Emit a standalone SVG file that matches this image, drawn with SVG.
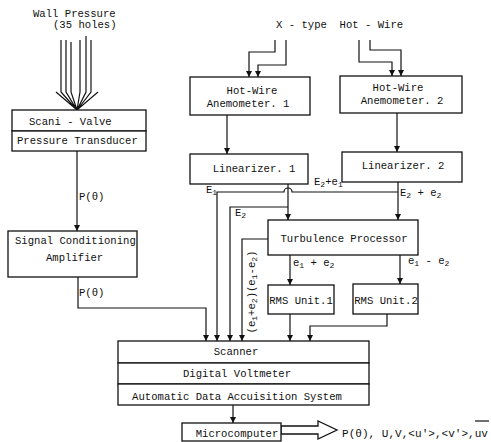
<svg xmlns="http://www.w3.org/2000/svg" width="491" height="442" viewBox="0 0 491 442">
<style>
text{font-family:"Liberation Mono","DejaVu Sans Mono",monospace;font-size:10.6px;fill:#111}
.box{fill:#fff;stroke:#111;stroke-width:1.3}
.ln{fill:none;stroke:#111;stroke-width:1.2}
.sub{font-size:8px}
</style>
<defs>
<marker id="ah" viewBox="0 0 6 8" refX="6" refY="4" markerWidth="6" markerHeight="8" markerUnits="userSpaceOnUse" orient="auto">
<path d="M0,1 L6,4 L0,7 Z" fill="#111"/>
</marker>
</defs>
<rect width="491" height="442" fill="#fff"/>

<g id="labels-top">
<text x="33" y="17">Wall Pressure</text>
<text x="53" y="28">(35 holes)</text>
<text x="276" y="28" xml:space="preserve">X - type  Hot - Wire</text>
</g>

<g id="connectors">
<path class="ln" d="M61,40 V92 L77,110 M66,40 V92 L77,110 M71,42 V92 L77,110 M80,40 V92 L77,110 M86,36 V92 L77,110 M91,40 V92 L77,110 M56,92 L77,110 L98,92"/>
<path class="ln" d="M77,151 V231" marker-end="url(#ah)"/>
<path class="ln" d="M78,277 V308 H206 V341" marker-end="url(#ah)"/>
<path class="ln" d="M275,40 V52 H249 V77" marker-end="url(#ah)"/>
<path class="ln" d="M286,40 V65 H258 V77" marker-end="url(#ah)"/>
<path class="ln" d="M359,40 V62 H392 V76" marker-end="url(#ah)"/>
<path class="ln" d="M370,40 V50 H401 V76" marker-end="url(#ah)"/>
<path class="ln" d="M227,115 V154" marker-end="url(#ah)"/>
<path class="ln" d="M397,113 V152" marker-end="url(#ah)"/>
<path class="ln" d="M288,184 V220" marker-end="url(#ah)"/>
<path class="ln" d="M398,182 V220" marker-end="url(#ah)"/>
<path class="ln" d="M398,192 H292 a4,4 0 0 0 -8,0 H217 V341" marker-end="url(#ah)"/>
<path class="ln" d="M288,207 H230 V341" marker-end="url(#ah)"/>
<path class="ln" d="M268,239 H242 V341" marker-end="url(#ah)"/>
<path class="ln" d="M290,255 V285" marker-end="url(#ah)"/>
<path class="ln" d="M400,255 V284" marker-end="url(#ah)"/>
<path class="ln" d="M290,314 V341" marker-end="url(#ah)"/>
<path class="ln" d="M387,314 V326 H310 V341" marker-end="url(#ah)"/>
<path class="ln" d="M233,405 V423" marker-end="url(#ah)"/>
<polygon class="box" points="281,426 318,426 318,421 337,430 318,439 318,434 281,434"/>

<text x="79" y="200">P(θ)</text>
<text x="79" y="296">P(θ)</text>
<text x="206" y="193">E<tspan class="sub" dy="2">1</tspan></text>
<text x="235" y="216">E<tspan class="sub" dy="2">2</tspan></text>
<text x="314" y="185">E<tspan class="sub" dy="2">2</tspan><tspan dy="-2">+e</tspan><tspan class="sub" dy="2">1</tspan></text>
<text x="400" y="196" xml:space="preserve">E<tspan class="sub" dy="2">2</tspan><tspan dy="-2"> + e</tspan><tspan class="sub" dy="2">2</tspan></text>
<text x="293" y="266" xml:space="preserve">e<tspan class="sub" dy="2">1</tspan><tspan dy="-2"> + e</tspan><tspan class="sub" dy="2">2</tspan></text>
<text x="408" y="264" xml:space="preserve">e<tspan class="sub" dy="2">1</tspan><tspan dy="-2"> - e</tspan><tspan class="sub" dy="2">2</tspan></text>
<text transform="translate(255,292) rotate(-90)" text-anchor="middle">(e<tspan class="sub" dy="2">1</tspan><tspan dy="-2">+e</tspan><tspan class="sub" dy="2">2</tspan><tspan dy="-2">)(e</tspan><tspan class="sub" dy="2">1</tspan><tspan dy="-2">-e</tspan><tspan class="sub" dy="2">2</tspan><tspan dy="-2">)</tspan></text>
<text x="342" y="437" textLength="146" lengthAdjust="spacingAndGlyphs">P(θ), U,V,&lt;u'&gt;,&lt;v'&gt;,uv</text>
<path class="ln" d="M475,421 H489"/>
</g>

<g id="scani-valve">
<rect class="box" x="12" y="110" width="134" height="21"/>
<text x="29" y="125">Scani - Valve</text>
</g>
<g id="pressure-transducer">
<rect class="box" x="12" y="131" width="134" height="20"/>
<text x="17" y="144">Pressure Transducer</text>
</g>
<g id="signal-conditioning">
<rect class="box" x="8" y="231" width="129" height="46"/>
<text x="15" y="244">Signal Conditioning</text>
<text x="46" y="261">Amplifier</text>
</g>
<g id="hwa1">
<rect class="box" x="190" y="77" width="120" height="38"/>
<text x="252" y="94" text-anchor="middle">Hot-Wire</text>
<text x="248" y="107" text-anchor="middle">Anemometer. 1</text>
</g>
<g id="hwa2">
<rect class="box" x="340" y="76" width="122" height="37"/>
<text x="398" y="91" text-anchor="middle">Hot-Wire</text>
<text x="402" y="104" text-anchor="middle">Anemometer. 2</text>
</g>
<g id="linearizer1">
<rect class="box" x="190" y="154" width="118" height="30"/>
<text x="254" y="172" text-anchor="middle">Linearizer. 1</text>
</g>
<g id="linearizer2">
<rect class="box" x="342" y="152" width="120" height="30"/>
<text x="403" y="169" text-anchor="middle">Linearizer. 2</text>
</g>
<g id="turbulence-processor">
<rect class="box" x="268" y="220" width="150" height="35"/>
<text x="344" y="242" text-anchor="middle">Turbulence Processor</text>
</g>
<g id="rms1">
<rect class="box" x="268" y="285" width="66" height="29"/>
<text x="301" y="304" text-anchor="middle">RMS Unit.1</text>
</g>
<g id="rms2">
<rect class="box" x="353" y="284" width="65" height="30"/>
<text x="386" y="304" text-anchor="middle">RMS Unit.2</text>
</g>
<g id="scanner">
<rect class="box" x="118" y="341" width="251" height="22"/>
<text x="236" y="355" text-anchor="middle">Scanner</text>
</g>
<g id="digital-voltmeter">
<rect class="box" x="118" y="363" width="251" height="21"/>
<text x="237" y="377" text-anchor="middle">Digital Voltmeter</text>
</g>
<g id="adas">
<rect class="box" x="118" y="384" width="251" height="21"/>
<text x="237" y="400" text-anchor="middle">Automatic Data Accuisition System</text>
</g>
<g id="microcomputer">
<rect class="box" x="182" y="423" width="99" height="18"/>
<text x="237" y="437" text-anchor="middle" font-size="9.6">Microcomputer</text>
</g>
</svg>
